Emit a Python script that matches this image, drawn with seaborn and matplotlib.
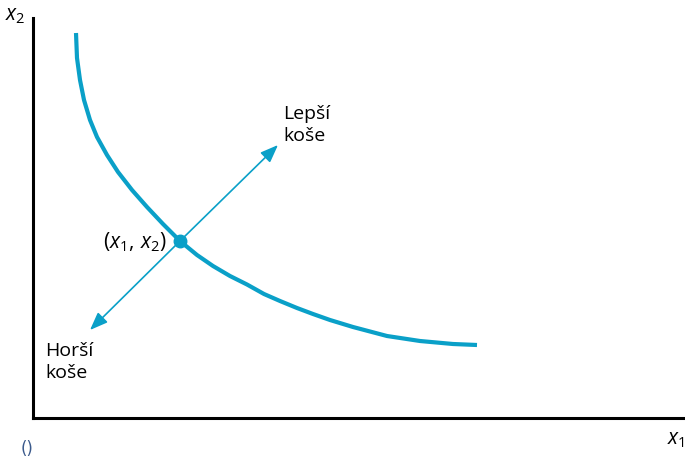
import matplotlib
matplotlib.use("Agg")
import matplotlib.pyplot as plt
import seaborn as sns
import pandas as pd

# --- data (axis units = pixels from origin) ---
x1_vals = [43, 44, 47, 51, 57, 64, 74, 85, 99, 114, 130, 147, 164, 180, 197,
           214, 231, 247, 264, 280, 297, 320, 354, 387, 420, 444]
x2_vals = [385, 360, 338, 318, 298, 281, 263, 246, 228, 211, 194, 177, 163, 152, 142,
           133.5, 124, 117, 110, 104, 98, 91, 82, 77, 74, 73]
bod = (147, 177)          # (x1, x2)
lepsi_cil = (245, 273)    # arrow tip towards better bundles
horsi_cil = (57, 88)      # arrow tip towards worse bundles

barva = "#0aa0c8"

sns.set_theme(style="white")
plt.rcParams["font.family"] = ["Open Sans", "DejaVu Sans"]
plt.rcParams["mathtext.fontset"] = "custom"
plt.rcParams["mathtext.it"] = "Open Sans:italic"
plt.rcParams["mathtext.rm"] = "Open Sans"
plt.rcParams["text.color"] = "black"

fig = plt.figure(figsize=(6.85, 4.57), dpi=100)
ax = fig.add_axes([33 / 685, 39 / 457, 652 / 685, 400 / 457])

df = pd.DataFrame({"x1": x1_vals, "x2": x2_vals})
sns.lineplot(data=df, x="x1", y="x2", sort=False, color=barva, linewidth=3.0,
             solid_joinstyle="round", solid_capstyle="butt", ax=ax)
ax.plot([bod[0]], [bod[1]], "o", color=barva, markersize=9, zorder=5)

for cil in (lepsi_cil, horsi_cil):
    ax.annotate("", xy=cil, xytext=bod,
                arrowprops=dict(arrowstyle="-|>,head_length=0.9,head_width=0.35",
                                color=barva, lw=1.2, shrinkA=0, shrinkB=0))

ax.text(250, 293, "Lepší\nkoše", fontsize=14, va="center", ha="left", linespacing=1.25)
ax.text(12, 56, "Horší\nkoše", fontsize=14, va="center", ha="left", linespacing=1.25)
ax.text(134, 176, r"$(x_1,\, x_2)$", fontsize=15, va="center", ha="right")

ax.set_xlim(0, 652)
ax.set_ylim(0, 400)
ax.set_xticks([])
ax.set_yticks([])
ax.set_xlabel("")
ax.set_ylabel("")
sns.despine(ax=ax)
for s in ("left", "bottom"):
    ax.spines[s].set_color("black")
    ax.spines[s].set_linewidth(2.2)

fig.text(5 / 685, 1 - 16 / 457, r"$x_2$", fontsize=15, ha="left", va="center")
fig.text(667 / 685, 1 - 440 / 457, r"$x_1$", fontsize=15, ha="left", va="center")
fig.text(21 / 685, 1 - 449 / 457, "()", fontsize=12, color="#3b5a8c", ha="left", va="center",
         family=["DejaVu Sans"])

fig.savefig("out.png", dpi=100)
